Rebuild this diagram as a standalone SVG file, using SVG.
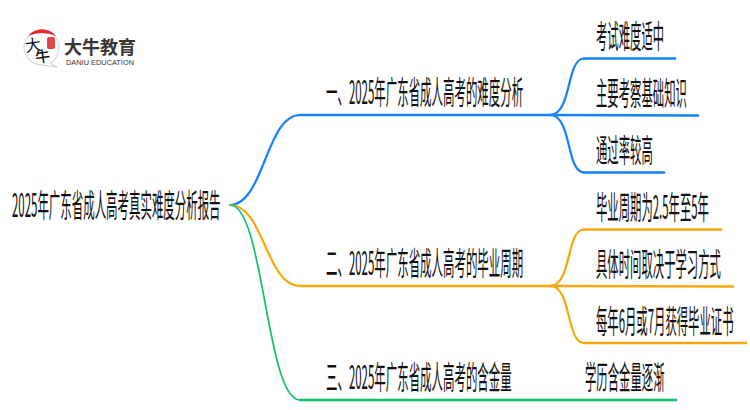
<svg xmlns="http://www.w3.org/2000/svg" width="750" height="410" viewBox="0 0 750 410">
<style>
text{font-family:"Noto Sans CJK SC","Liberation Sans",sans-serif;fill:#111}
.t{font-size:32px;font-weight:400}
path.c{fill:none;stroke-linecap:round}
.b{stroke:#1283fb}.o{stroke:#f6a80b}.g{stroke:#12c169}
</style>
<rect width="750" height="410" fill="#fff"/>
<g id="connectors">
<path class="c b" stroke-width="2.200" d="M230 205C264 205 266 115 300 115"/>
<path class="c b" stroke-width="2.600" d="M300 115H550"/>
<path class="c o" stroke-width="2.200" d="M230 205C264 205 266 286 300 286"/>
<path class="c o" stroke-width="2.600" d="M300 286H550"/>
<path class="c g" stroke-width="1.700" d="M230 205C264 205 266 400 300 400"/>
<path class="c g" stroke-width="2.600" d="M300 400H550"/>
<path class="c b" stroke-width="2.200" d="M550 115C572 115 566 58.500 584 58.500"/>
<path class="c b" stroke-width="2.600" d="M584 58.500H675"/>
<path class="c b" stroke-width="2.600" d="M550 115L698 115.500"/>
<path class="c b" stroke-width="2.200" d="M550 115C572 115 566 172.500 584 172.500"/>
<path class="c b" stroke-width="2.600" d="M584 172.500H664"/>
<path class="c o" stroke-width="2.200" d="M550 286C572 286 566 229.500 584 229.500"/>
<path class="c o" stroke-width="2.600" d="M584 229.500H721"/>
<path class="c o" stroke-width="2.600" d="M550 286L733 286.500"/>
<path class="c o" stroke-width="2.200" d="M550 286C572 286 566 343 584 343"/>
<path class="c o" stroke-width="2.600" d="M584 343H746"/>
<path class="c g" stroke-width="2.600" d="M550 400H676"/>
</g>
<g id="logo">
<path d="M24 47A17.500 17.500 0 1 1 50 63L57 67L42 65A18 18 0 0 1 24 47Z" fill="#fff" stroke="#ccc"/>
<path d="M28 36A18 18 0 0 1 56 36Q42 30 28 36Z" fill="#e8272b"/>
<rect x="47" y="37" width="8" height="12" rx="2" fill="#e04848"/>
<text transform="translate(26 52) rotate(-8)" style="font-size:16px">大</text>
<text transform="translate(36 63) rotate(-8)" style="font-size:15px;font-weight:500">牛</text>
<text x="64" y="53.500" style="font-size:18px;font-weight:700;fill:#3a3534">大牛教育</text>
<text x="66" y="65" textLength="68" lengthAdjust="spacingAndGlyphs" style="font-family:'Liberation Sans',sans-serif;font-size:8px;fill:#3a3534">DANIU EDUCATION</text>
</g>
<g id="root"><text class="t" transform="translate(12 217) scale(.358 1)">2025年广东省成人高考真实难度分析报告</text></g>
<g id="b1"><text class="t" transform="translate(326 104) scale(.358 1)">一、2025年广东省成人高考的难度分析</text></g>
<g id="b2"><text class="t" transform="translate(326 275) scale(.358 1)">二、2025年广东省成人高考的毕业周期</text></g>
<g id="b3"><text class="t" transform="translate(326 389) scale(.358 1)">三、2025年广东省成人高考的含金量</text></g>
<g id="l1"><text class="t" transform="translate(596 47.500) scale(.355 1)">考试难度适中</text></g>
<g id="l2"><text class="t" transform="translate(596 104.500) scale(.355 1)">主要考察基础知识</text></g>
<g id="l3"><text class="t" transform="translate(596 161.500) scale(.355 1)">通过率较高</text></g>
<g id="l4"><text class="t" transform="translate(596 219) scale(.355 1)">毕业周期为2.5年至5年</text></g>
<g id="l5"><text class="t" transform="translate(596 276) scale(.355 1)">具体时间取决于学习方式</text></g>
<g id="l6"><text class="t" transform="translate(596 332.500) scale(.355 1)">每年6月或7月获得毕业证书</text></g>
<g id="l7"><text class="t" transform="translate(585 389) scale(.355 1)">学历含金量逐渐</text></g>
</svg>
